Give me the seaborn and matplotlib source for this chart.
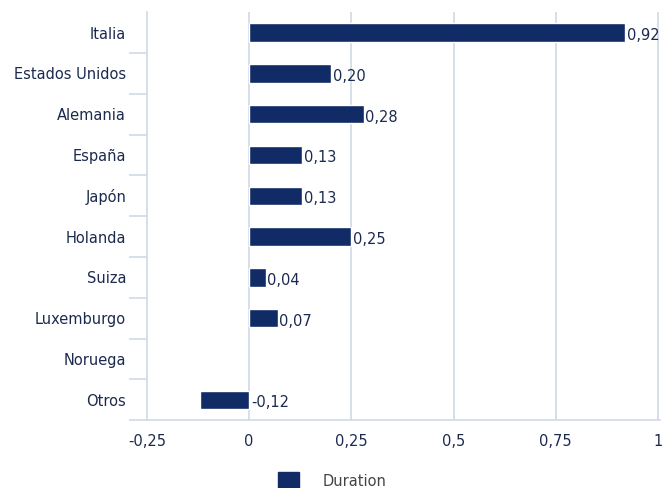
import matplotlib
matplotlib.use("Agg")
import matplotlib.pyplot as plt
import matplotlib.patches as mpatches
import numpy as np
import pandas as pd
import seaborn as sns

# data
countries = ["Italia", "Estados Unidos", "Alemania", "España", "Japón",
             "Holanda", "Suiza", "Luxemburgo", "Noruega", "Otros"]
duration = [0.92, 0.20, 0.28, 0.13, 0.13, 0.25, 0.04, 0.07, np.nan, -0.12]
x_ticks = [-0.25, 0, 0.25, 0.5, 0.75, 1]
x_tick_labels = ["-0,25", "0", "0,25", "0,5", "0,75", "1"]

bar_color = "#112b66"
text_color = "#1c2a4f"
grid_color = "#cfd9e8"

sns.set_theme(style="white")
plt.rcParams["font.family"] = ["DejaVu Sans"]

df = pd.DataFrame({"country": countries, "duration": duration})

fig = plt.figure(figsize=(6.65, 4.88), dpi=100)
ax = fig.add_axes([0.221, 0.139, 0.7715, 0.836])

sns.barplot(data=df, x="duration", y="country", order=countries,
            color=bar_color, width=0.45, saturation=1, ax=ax, orient="h")

ax.set_xlim(-0.25, 1.005)
ax.set_ylim(len(countries) - 0.5, -0.5)
ax.set_xticks(x_ticks)
ax.set_xticklabels(x_tick_labels)
ax.set_xlabel("")
ax.set_ylabel("")

for x in x_ticks[1:]:
    ax.axvline(x, color=grid_color, lw=1.2, zorder=0)

for i, v in enumerate(duration):
    if np.isnan(v):
        continue
    ax.text(max(v, 0) + 0.004, i + 0.07, f"{v:.2f}".replace(".", ","),
            va="center", ha="left", fontsize=10.5, color=text_color)

for s in ["top", "right"]:
    ax.spines[s].set_visible(False)
for s in ["left", "bottom"]:
    ax.spines[s].set_color(grid_color)
    ax.spines[s].set_linewidth(1.2)

# separators between categories (none at the very top)
ax.set_yticks(np.arange(1, len(countries) + 1) - 0.5, minor=True)
ax.tick_params(axis="y", which="major", length=0, pad=15,
               labelsize=10.5, labelcolor=text_color)
ax.tick_params(axis="y", which="minor", length=13, width=1.2,
               color=grid_color, left=True)
ax.tick_params(axis="x", length=0, pad=10, labelsize=10.5,
               labelcolor=text_color)

handle = mpatches.Patch(color=bar_color, label="Duration")
fig.legend(handles=[handle], loc="lower center", bbox_to_anchor=(0.5, -0.03),
           frameon=False, fontsize=10.5, labelcolor="#444444",
           handlelength=1.45, handleheight=1.45, handletextpad=1.6)

fig.savefig("out.png", dpi=100)
